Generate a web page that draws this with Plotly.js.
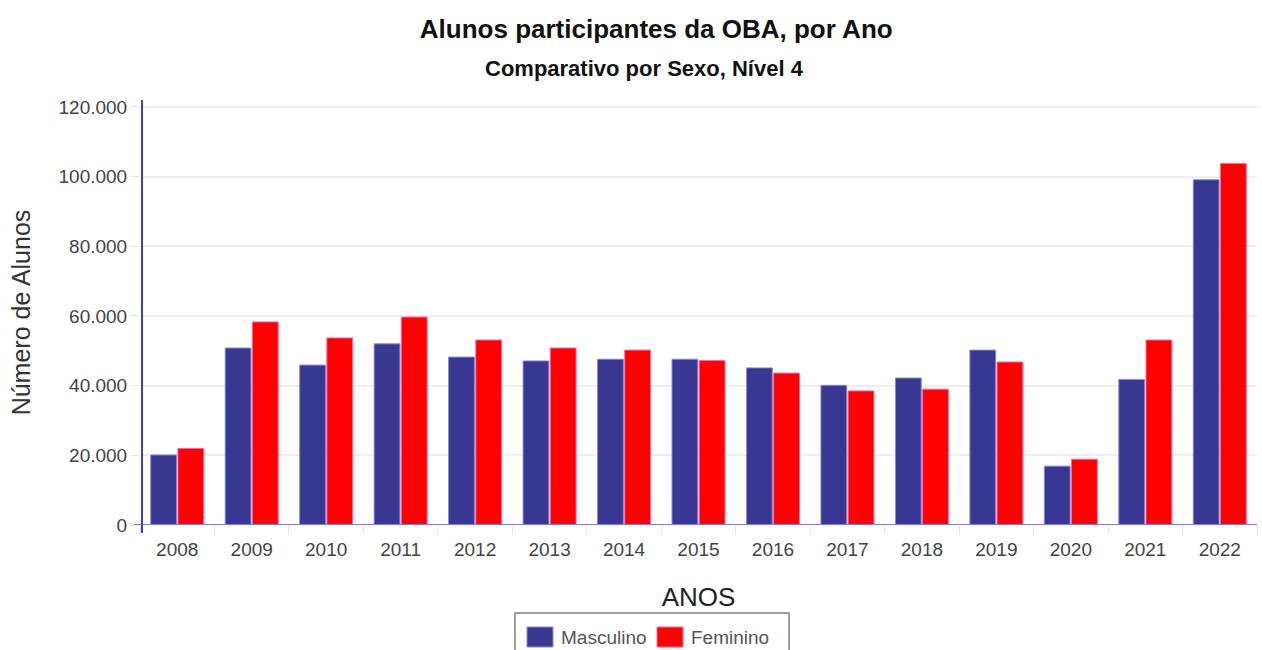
<!DOCTYPE html>
<html>
<head>
<meta charset="utf-8">
<script src="https://cdn.plot.ly/plotly-3.0.1.min.js"></script>
<style>
  body { margin: 0; background: #fff; }
  #chart { width: 1262px; height: 650px; }
</style>
</head>
<body>
<div id="chart"></div>
<script>
// anos e número de alunos
const anos = ['2008', '2009', '2010', '2011', '2012', '2013', '2014', '2015',
              '2016', '2017', '2018', '2019', '2020', '2021', '2022'];
const masculino = [20100, 50800, 45900, 52000, 48200, 47100, 47600, 47600,
                   45100, 40100, 42200, 50200, 16900, 41800, 99100];
const feminino = [22000, 58300, 53700, 59700, 53100, 50800, 50200, 47200,
                  43600, 38500, 39000, 46800, 18900, 53100, 103800];
const yTicks = [0, 20000, 40000, 60000, 80000, 100000, 120000];

const azul = '#383893';
const vermelho = '#ff0000';

// área do gráfico em pixels
const W = 1262, H = 650;
const mL = 140, mR = 5, mT = 100, mB = 125;
const px = x => (x - mL) / (W - mL - mR);   // pixel -> paper (x)
const py = y => (H - mB - y) / (H - mT - mB); // pixel -> paper (y)

let data = [
    {
        x: anos,
        y: masculino,
        type: 'bar',
        name: 'Masculino',
        marker: {color: azul, line: {color: '#8a8ad0', width: 1}},
        hoverinfo: 'x+y'
    },
    {
        x: anos,
        y: feminino,
        type: 'bar',
        name: 'Feminino',
        marker: {color: vermelho, line: {color: '#ff66aa', width: 1}},
        hoverinfo: 'x+y'
    }
];

let shapes = [
    {   // linha do eixo x
        type: 'line', xref: 'paper', yref: 'y',
        x0: px(134), x1: 1, y0: 0, y1: 0,
        line: {color: '#7d7dd6', width: 2}
    },
    {   // linha do eixo y
        type: 'line', xref: 'paper', yref: 'paper',
        x0: px(142), x1: px(142), y0: py(533), y1: 1,
        line: {color: '#3d3dc0', width: 2}
    },
    {   // caixa da legenda (cortada embaixo, como no original)
        type: 'rect', xref: 'paper', yref: 'paper',
        x0: px(515), x1: px(789), y0: py(613), y1: py(665),
        line: {color: '#a0a0a0', width: 2}, fillcolor: 'rgba(0,0,0,0)'
    }
];
let annotations = [{
    text: '<b>Comparativo por Sexo, Nível 4</b>',
    xref: 'paper', yref: 'paper',
    x: px(644), y: py(69),
    xanchor: 'center', yanchor: 'middle',
    showarrow: false,
    font: {size: 22, color: '#111'}
}];

// legenda desenhada à mão: quadrado grande + nome da série
const legendX = [527, 657];
data.forEach((tr, i) => {
    shapes.push({
        type: 'rect', xref: 'paper', yref: 'paper',
        x0: px(legendX[i]), x1: px(legendX[i] + 26), y0: py(627), y1: py(647),
        fillcolor: tr.marker.color,
        line: {color: tr.marker.line.color, width: 1}
    });
    annotations.push({
        text: tr.name,
        xref: 'paper', yref: 'paper',
        x: px(legendX[i] + 32), y: py(637),
        xanchor: 'left', yanchor: 'middle',
        showarrow: false,
        font: {size: 19, color: '#555'}
    });
});

let layout = {
    width: W,
    height: H,
    margin: {l: mL, r: mR, t: mT, b: mB},
    paper_bgcolor: '#fff',
    plot_bgcolor: '#fff',
    separators: ',.',
    font: {family: 'Arial, "Liberation Sans", sans-serif', color: '#444'},
    barmode: 'group',
    bargap: 0.27,
    bargroupgap: 0.05,
    showlegend: false,
    title: {
        text: '<b>Alunos participantes da OBA, por Ano</b>',
        font: {size: 26, color: '#111'},
        x: 0.52, xanchor: 'center',
        y: 1 - 29 / H, yanchor: 'middle'
    },
    annotations: annotations,
    shapes: shapes,
    xaxis: {
        type: 'category',
        title: {text: 'ANOS', font: {size: 26, color: '#222'}, standoff: 28},
        tickfont: {size: 19, color: '#444'},
        showgrid: false,
        showline: false,
        zeroline: false,
        ticks: 'outside',
        tickson: 'boundaries',
        ticklen: 8,
        tickcolor: '#e2e2e2',
        ticklabelstandoff: 11,
        automargin: false,
        fixedrange: true
    },
    yaxis: {
        title: {text: 'Número de Alunos', font: {size: 25, color: '#333'}, standoff: 20},
        range: [0, 122000],
        tickvals: yTicks,
        tickformat: ',d',
        tickfont: {size: 19, color: '#444'},
        gridcolor: '#eeeeee',
        gridwidth: 2,
        showline: false,
        zeroline: false,
        ticks: 'outside',
        ticklen: 8,
        tickcolor: '#e2e2e2',
        automargin: false,
        fixedrange: true
    }
};

Plotly.newPlot('chart', data, layout, {displayModeBar: false, staticPlot: true});
</script>
</body>
</html>
